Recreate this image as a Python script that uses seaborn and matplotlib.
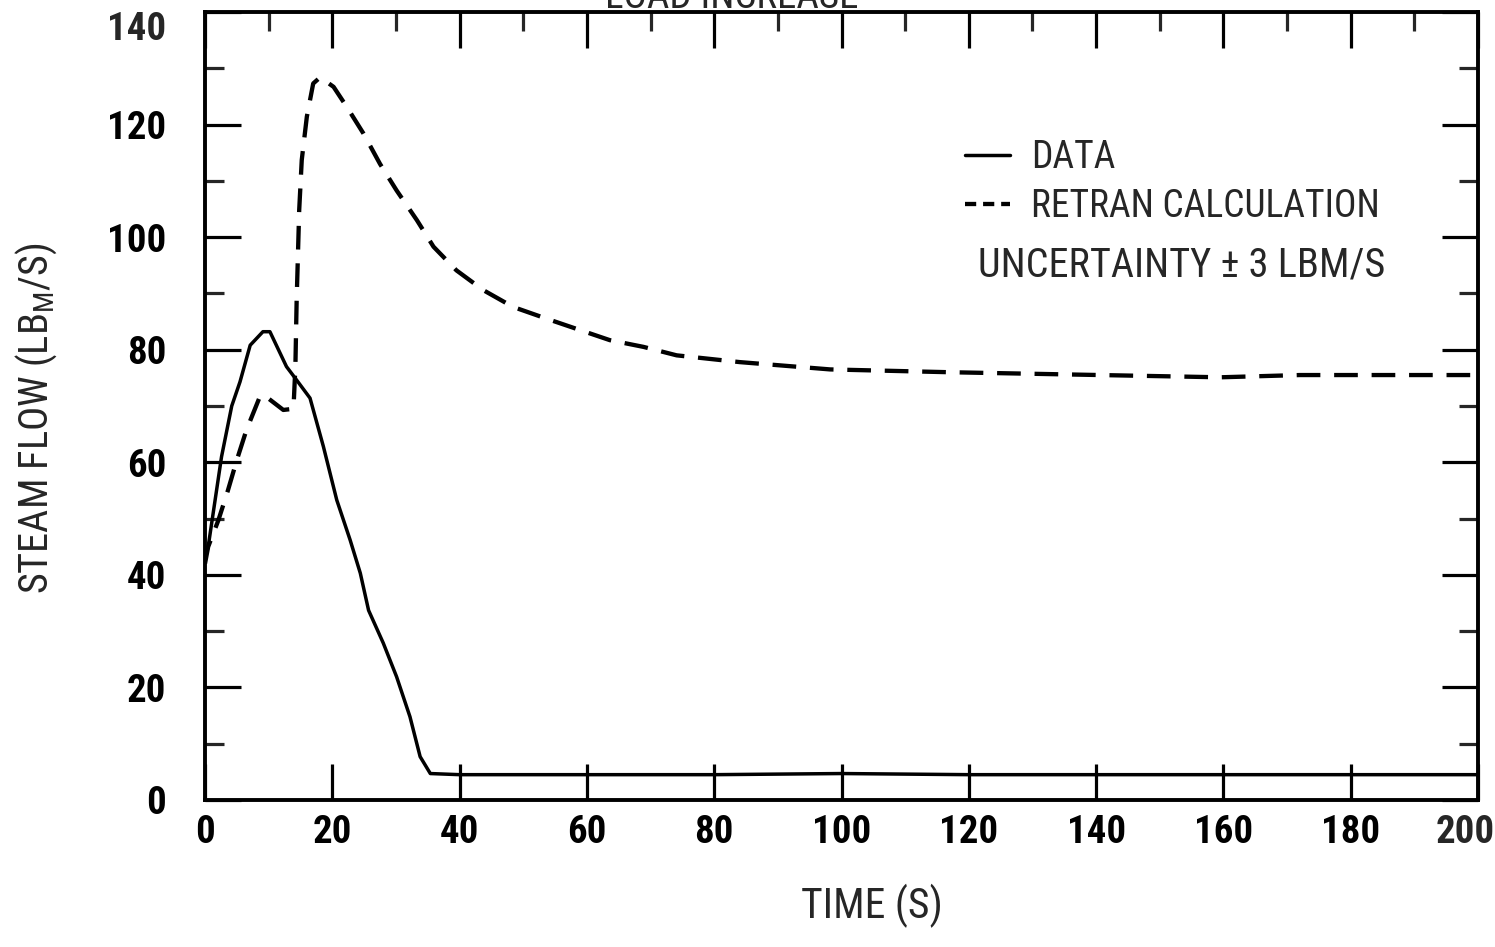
import matplotlib
matplotlib.use("Agg")
import matplotlib.pyplot as plt
from matplotlib.lines import Line2D
from matplotlib.ticker import MultipleLocator
import seaborn as sns
import pandas as pd
from matplotlib import font_manager

# ---- data ----
data_t = [0, 0.5, 2.6, 4.2, 5.5, 7.1, 9.1, 10.2, 12.8, 14.4, 16.5, 18.6, 20.7,
          22.8, 24.4, 25.7, 28.0, 30.1, 32.2, 33.8, 35.4, 40, 60, 80, 100, 120,
          140, 160, 180, 200]
data_v = [43, 45, 61, 70, 74.3, 80.8, 83.2, 83.2, 77, 74.6, 71.4, 62.8, 53.3,
          46.2, 40.3, 33.7, 27.9, 21.9, 14.8, 7.7, 4.7, 4.5, 4.5, 4.5, 4.7, 4.5,
          4.5, 4.5, 4.5, 4.5]

calc_t = [0, 0.5, 2.1, 3.6, 5.0, 6.5, 8.6, 9.2, 12.3, 13.9, 14.2, 14.4, 14.8,
          15.2, 16.0, 17.0, 18.1, 20.2, 22.3, 24.9, 27.5, 30.1, 33.3, 35.9, 39.5,
          43.7, 48.4, 53.7, 58.9, 63.6, 68.9, 74.1, 84, 98.2, 117, 140.6, 159.5,
          172, 200]
calc_v = [42, 45, 49.7, 55, 60.4, 65.7, 71.6, 72, 69.3, 69.5, 77, 88.8, 104.8,
          113.7, 121.4, 127.3, 128.4, 126.7, 123.1, 118.4, 113, 108.3, 103, 98.3,
          94.1, 90.6, 87.6, 85.5, 83.5, 81.7, 80.5, 79.0, 77.8, 76.5, 76, 75.5,
          75.1, 75.5, 75.5]

x_ticks = [0, 20, 40, 60, 80, 100, 120, 140, 160, 180, 200]
y_ticks = [0, 20, 40, 60, 80, 100, 120, 140]

title_text = "LOAD INCREASE"
x_label = "TIME (S)"
y_label = "STEAM FLOW (LB$_\\mathregular{M}$/S)"
legend_labels = ["DATA", "RETRAN CALCULATION"]
note_text = "UNCERTAINTY \u00b1 3 LBM/S"

# ---- style ----
sns.set_style("ticks")
available = {f.name for f in font_manager.fontManager.ttflist}
fam = [f for f in ["Liberation Sans Narrow", "Roboto Condensed", "Open Sans Condensed"] if f in available]
plt.rcParams["font.family"] = fam + ["DejaVu Sans"]
plt.rcParams["mathtext.fontset"] = "custom"
plt.rcParams["mathtext.rm"] = (fam + ["DejaVu Sans"])[0]

TICK_FS = 28
fig = plt.figure(figsize=(14.95, 9.47), dpi=100)
ax = fig.add_axes([205 / 1495, 1 - 800 / 947, (1478 - 205) / 1495, (800 - 12) / 947])

df_data = pd.DataFrame({"t": data_t, "v": data_v})
df_calc = pd.DataFrame({"t": calc_t, "v": calc_v})
sns.lineplot(data=df_data, x="t", y="v", ax=ax, color="black", lw=2.5,
             estimator=None, sort=False)
sns.lineplot(data=df_calc, x="t", y="v", ax=ax, color="black", lw=3.1,
             estimator=None, sort=False)
ax.lines[-1].set_dashes([5.5, 3.2])

ax.set_xlim(0, 200)
ax.set_ylim(0, 140)
ax.set_xticks(x_ticks)
ax.set_yticks(y_ticks)
# the outermost labels are placed separately so they stay inside the figure
ax.set_xticklabels([str(v) for v in x_ticks[:-1]] + [""])
ax.set_yticklabels([str(v) for v in y_ticks[:-1]] + [""])
ax.xaxis.set_minor_locator(MultipleLocator(10))
ax.yaxis.set_minor_locator(MultipleLocator(10))
for s in ax.spines.values():
    s.set_linewidth(2.8)
    s.set_color("black")

ax.tick_params(which="major", direction="in", length=26, width=2.3,
               top=True, right=True, bottom=True, left=True,
               labelsize=TICK_FS, pad=10, colors="black")
ax.tick_params(axis="y", which="major", pad=28)
ax.tick_params(which="minor", direction="in", length=14, width=2.3,
               top=True, right=True, left=True, bottom=False)
for lab in ax.get_xticklabels() + ax.get_yticklabels():
    lab.set_fontweight("bold")

ax.annotate(str(x_ticks[-1]), xy=(x_ticks[-1], 0), xycoords=("data", "axes fraction"),
            xytext=(-9, -10), textcoords="offset points", ha="center", va="top",
            fontsize=TICK_FS, fontweight="bold")
ax.annotate(str(y_ticks[-1]), xy=(0, y_ticks[-1]), xycoords=("axes fraction", "data"),
            xytext=(-28, 1), textcoords="offset points", ha="right", va="top",
            fontsize=TICK_FS, fontweight="bold")

ax.set_xlabel(x_label, fontsize=30)
ax.xaxis.set_label_coords((872 - 205) / 1273, (800 - 884) / 788)
ax.set_ylabel(y_label, fontsize=29)
ax.yaxis.set_label_coords((59 - 205) / 1273, (800 - 418) / 788)

handles = [Line2D([], [], color="black", lw=2.5),
           Line2D([], [], color="black", lw=3.1, dashes=[2.6, 1.6])]
leg = ax.legend(handles, legend_labels, loc="upper left",
                bbox_to_anchor=((965 - 205) / 1273, (800 - 139) / 788),
                frameon=False, fontsize=27, handlelength=1.2, handletextpad=0.55,
                labelspacing=0.33, borderaxespad=0, borderpad=0)
ax.text((978 - 205) / 1273, (800 - 265) / 788, note_text, transform=ax.transAxes,
        fontsize=29, va="center", ha="left")

fig.text(732 / 1495, 1 - 8 / 947, title_text, ha="center", va="baseline", fontsize=28)

fig.savefig("out.png", dpi=100, facecolor="white")
